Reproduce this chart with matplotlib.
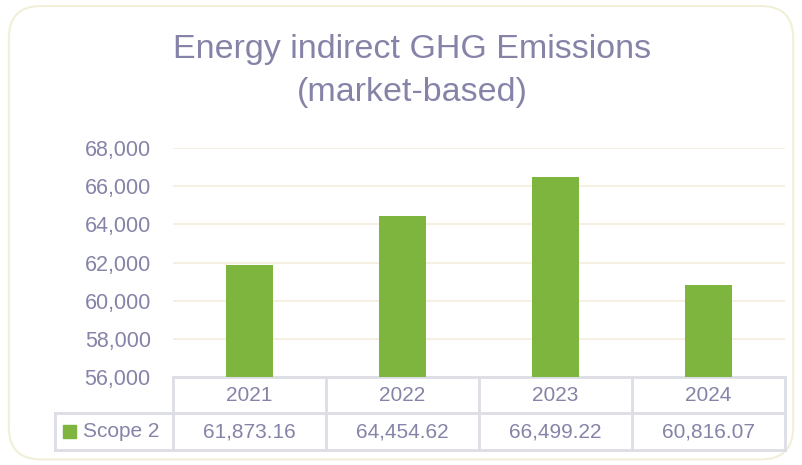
import matplotlib
matplotlib.use("Agg")
import matplotlib.pyplot as plt
from matplotlib.patches import FancyBboxPatch, Rectangle
import matplotlib.transforms as mtransforms

years = ["2021", "2022", "2023", "2024"]
scope2 = [61873.16, 64454.62, 66499.22, 60816.07]
series_name = "Scope 2"
yticks = [56000, 58000, 60000, 62000, 64000, 66000, 68000]

text_col = "#8584a8"
green = "#7db53f"
grid_col = "#f5f0e2"
table_col = "#dddde6"

plt.rcParams["font.family"] = ["Liberation Sans", "DejaVu Sans"]

fig = plt.figure(figsize=(8.02, 4.65), dpi=100)
fig.patches.append(FancyBboxPatch((0.011, 0.012), 0.978, 0.975,
                                  boxstyle="round,pad=0,rounding_size=0.04",
                                  transform=fig.transFigure, fc="white",
                                  ec="#f2efd9", lw=1.5, zorder=-5,
                                  mutation_aspect=802 / 465))

ax = fig.add_axes([0.2157, 0.1892, 0.7633, 0.4925])
ax.set_facecolor("none")
x = list(range(len(years)))
ax.bar(x, scope2, width=0.31, color=green, zorder=3)
ax.set_xlim(-0.5, len(years) - 0.5)
ax.set_ylim(56000, 68000)
ax.set_yticks(yticks)
ax.set_yticklabels([f"{v:,}" for v in yticks], color=text_col, fontsize=15.5)
ax.tick_params(axis="y", length=0, pad=16)
ax.set_xticks([])
ax.grid(axis="y", color=grid_col, lw=1.5, zorder=0)
for s in ax.spines.values():
    s.set_visible(False)

fig.text(0.514, 0.847, "Energy indirect GHG Emissions\n(market-based)",
         ha="center", va="center", fontsize=24.5, color=text_col,
         linespacing=1.5)

# data table under the axis
tr = mtransforms.blended_transform_factory(ax.transData, ax.transAxes)
r1 = (413 - 377) / 229
r2 = (450 - 377) / 229
left = -0.5 - 118 / 153
kw = dict(transform=tr, color=table_col, lw=2, clip_on=False)
ax.plot([-0.5, 3.5], [0, 0], **kw)
ax.plot([left, 3.5], [-r1, -r1], **kw)
ax.plot([left, 3.5], [-r2, -r2], **kw)
for xv in [-0.5, 0.5, 1.5, 2.5, 3.5]:
    ax.plot([xv, xv], [0, -r2], **kw)
ax.plot([left, left], [-r1, -r2], **kw)

for i, (yr, v) in enumerate(zip(years, scope2)):
    ax.text(i, -r1 / 2, yr, transform=tr, ha="center", va="center",
            color=text_col, fontsize=15)
    ax.text(i, (-r1 - r2) / 2, f"{v:,.2f}", transform=tr, ha="center",
            va="center", color=text_col, fontsize=15)

ax.add_patch(Rectangle((left + 0.05, (-r1 - r2) / 2 - 0.03), 0.085, 0.06,
                       transform=tr, color=green, clip_on=False))
ax.text(left + 0.18, (-r1 - r2) / 2, series_name, transform=tr, ha="left",
        va="center", color=text_col, fontsize=15)

fig.savefig("out.png", dpi=100)
